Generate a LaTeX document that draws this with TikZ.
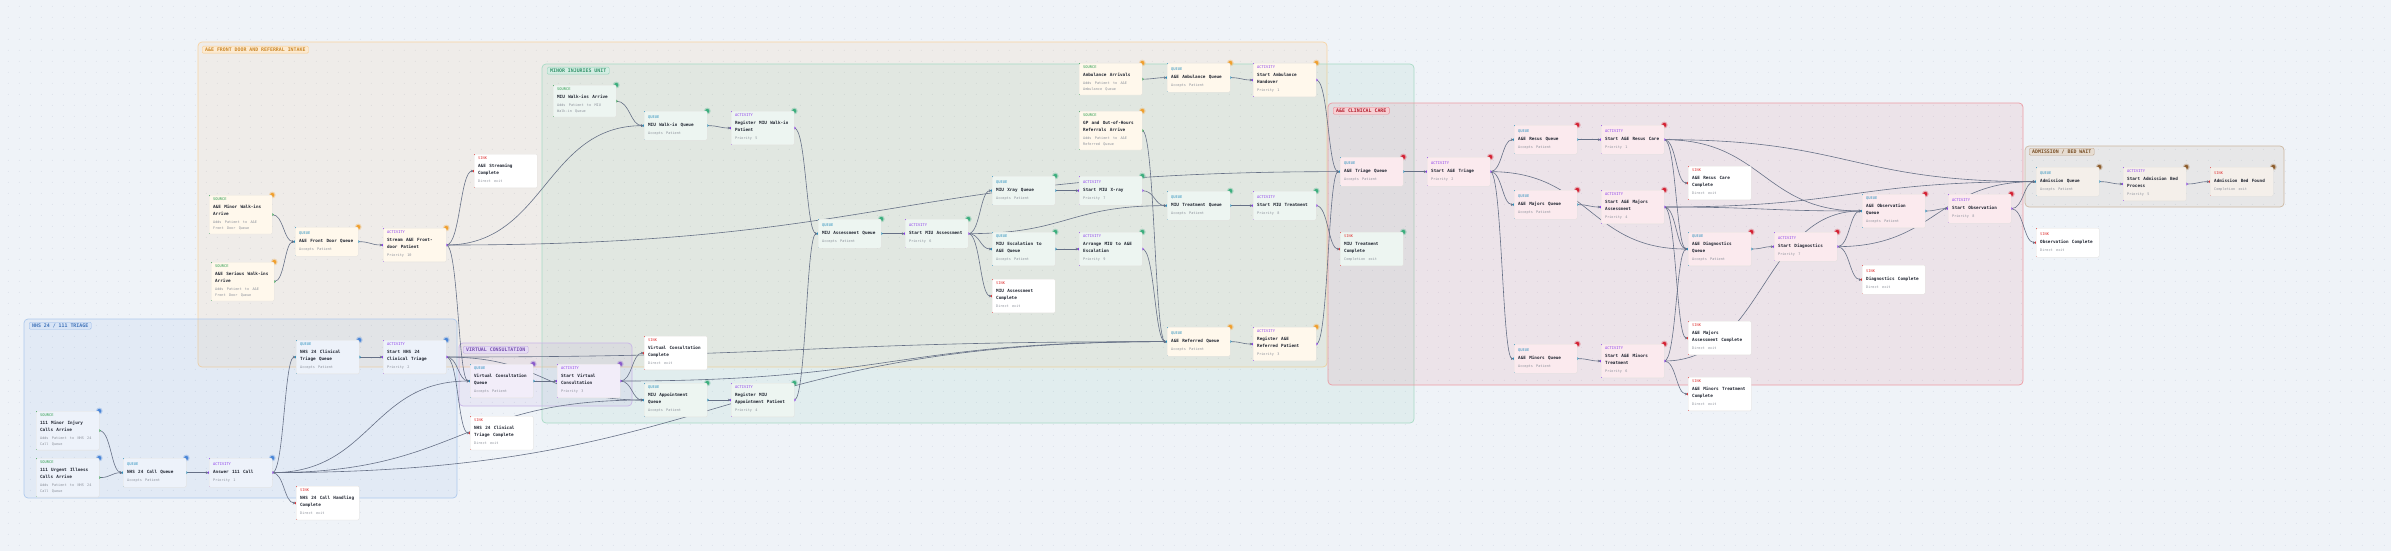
\documentclass[tikz,border=0pt]{standalone}
\usepackage{fontspec}
\setmainfont{DejaVu Sans Mono}
\usepackage{xcolor}
\usepackage{tikz}
\usetikzlibrary{arrows.meta, calc}

\definecolor{bgcol}{HTML}{EFF3F8}
\definecolor{gridcol}{HTML}{D3DAE3}
\definecolor{srccol}{HTML}{2E9E4F}
\definecolor{quecol}{HTML}{2A8FBD}
\definecolor{actcol}{HTML}{8B3DEB}
\definecolor{snkcol}{HTML}{E03A3A}
\definecolor{titlecol}{HTML}{1F2430}
\definecolor{subcol}{HTML}{8C919B}
\definecolor{edgecol}{HTML}{667086}
\definecolor{cardline}{HTML}{E4E2DE}
% group colours
\definecolor{fdcol}{HTML}{F0A030}
\definecolor{miucol}{HTML}{3DAE7E}
\definecolor{nhscol}{HTML}{4A86D8}
\definecolor{vccol}{HTML}{8A5CCB}
\definecolor{cccol}{HTML}{D42335}
\definecolor{admcol}{HTML}{8E5E2E}
% card fills
\definecolor{fdfill}{HTML}{FFF8EC}
\definecolor{miufill}{HTML}{EDF5F1}
\definecolor{nhsfill}{HTML}{EDF2FA}
\definecolor{vcfill}{HTML}{F2EDF9}
\definecolor{ccfill}{HTML}{FBEAEE}
\definecolor{admfill}{HTML}{F4EFEA}

\pgfdeclarelayer{background}
\pgfdeclarelayer{edges}
\pgfsetlayers{background,edges,main}

% type / title / subtitle of one card
\newcommand{\cardtext}[4]{%
  \parindent=0pt\leftskip=1.5pt\hyphenpenalty=10000\lineskiplimit=-20pt\lineskip=0pt
  {\fontsize{3.7pt}{4pt}\selectfont\color{#1}#2\par}%
  \vspace{1pt}%
  {\fontsize{4.3pt}{7pt}\selectfont\bfseries\color{titlecol}#3\par}%
  \vspace{2.8pt}%
  {\fontsize{3.5pt}{5.2pt}\selectfont\color{subcol}#4\rule[-2pt]{0pt}{2pt}\par}}

\begin{document}
\begin{tikzpicture}[x=1pt, y=-1pt,
    card/.style={anchor=north west, rectangle, rounded corners=1.2pt, text width=58pt,
        minimum height=29pt, inner xsep=2.5pt, inner ysep=3pt, align=left,
        draw=cardline, line width=0.3pt},
    source/.style={card, append after command={\pgfextra{
        \fill[srccol] (\tikzlastnode.north west) rectangle ([xshift=1.4pt]\tikzlastnode.south west);
        \fill[srccol] (\tikzlastnode.east) circle (1.5pt);}}},
    queue/.style={card, append after command={\pgfextra{
        \fill[quecol] (\tikzlastnode.north west) rectangle ([xshift=1.4pt]\tikzlastnode.south west);
        \fill[quecol] (\tikzlastnode.west) circle (1.5pt);
        \fill[quecol] (\tikzlastnode.east) circle (1.5pt);}}},
    activity/.style={card, append after command={\pgfextra{
        \fill[actcol] (\tikzlastnode.north west) rectangle ([xshift=1.4pt]\tikzlastnode.south west);
        \fill[actcol] (\tikzlastnode.west) circle (1.5pt);
        \fill[actcol] (\tikzlastnode.east) circle (1.5pt);}}},
    sink/.style={card, append after command={\pgfextra{
        \fill[snkcol] (\tikzlastnode.north west) rectangle ([xshift=1.4pt]\tikzlastnode.south west);
        \fill[snkcol] (\tikzlastnode.west) circle (1.5pt);}}},
    exit/.style={sink, fill=white},
    grpdot/.style={append after command={\pgfextra{
        \fill[#1, opacity=.3] (\tikzlastnode.north east) circle (3.4pt);
        \fill[#1] (\tikzlastnode.north east) circle (2.1pt);}}},
    fdnode/.style={fill=fdfill, grpdot=fdcol},
    miunode/.style={fill=miufill, grpdot=miucol},
    nhsnode/.style={fill=nhsfill, grpdot=nhscol},
    vcnode/.style={fill=vcfill, grpdot=vccol},
    ccnode/.style={fill=ccfill, grpdot=cccol},
    admnode/.style={fill=admfill, grpdot=admcol},
    grpbox/.style={rounded corners=4pt, line width=0.7pt, draw=#1!45, fill=#1, fill opacity=0.075},
    grplabel/.style={anchor=north west, rounded corners=1.2pt, draw=#1!55, fill=#1!22,
        text=#1!85!black, font=\fontsize{4.9pt}{5pt}\selectfont\bfseries,
        inner xsep=3pt, inner ysep=0pt, minimum height=7pt},
    gridrow/.style={draw=gridcol, line width=0.9pt, line cap=round, dash pattern=on 0pt off 11pt},
    flow/.style={draw=edgecol, line width=0.6pt, -{Stealth[length=3.2pt, width=2.6pt]},
        to path={let \p1=(\tikztostart), \p2=(\tikztotarget), \n1={max(0.5*(\x2-\x1),8)} in
            .. controls (\x1+\n1,\y1) and (\x2-\n1,\y2) .. (\tikztotarget)}}
]
\useasboundingbox (0,0) rectangle (2391,551);

% --- canvas and groups ---
\begin{pgfonlayer}{background}
\fill[bgcol] (0,0) rectangle (2391,551);
\foreach \gy in {6.3,17.3,...,551}
    \draw[gridrow] (8.3,\gy) -- (2391,\gy);
\draw[grpbox=fdcol] (198,42) rectangle (1327,367);
\draw[grpbox=miucol] (542,64) rectangle (1414,423);
\draw[grpbox=nhscol] (24,319) rectangle (457,498);
\draw[grpbox=vccol] (459,343) rectangle (632,406);
\draw[grpbox=cccol] (1328,103) rectangle (2023,385);
\draw[grpbox=admcol] (2025,146) rectangle (2284,207);
\node[grplabel=fdcol] (fdlbl) at (202,46) {A\&E FRONT DOOR AND REFERRAL INTAKE};
\node[grplabel=miucol] (miulbl) at (547,67) {MINOR INJURIES UNIT};
\node[grplabel=nhscol] (nhslbl) at (29,322) {NHS 24 / 111 TRIAGE};
\node[grplabel=vccol] (vclbl) at (463,346) {VIRTUAL CONSULTATION};
\node[grplabel=cccol] (cclbl) at (1333,107) {A\&E CLINICAL CARE};
\node[grplabel=admcol] (admlbl) at (2029,148) {ADMISSION / BED WAIT};
\end{pgfonlayer}

% --- A&E front door and referral intake ---
\node[source, fdnode] (mwalk) at (209,195) {\cardtext{srccol}{SOURCE}{A\&E Minor Walk-ins\newline Arrive}{Adds Patient to A\&E\newline Front Door Queue}};
\node[source, fdnode] (swalk) at (211,262) {\cardtext{srccol}{SOURCE}{A\&E Serious Walk-ins\newline Arrive}{Adds Patient to A\&E\newline Front Door Queue}};
\node[queue, fdnode] (fdq) at (295,227) {\cardtext{quecol}{QUEUE}{A\&E Front Door Queue}{Accepts Patient}};
\node[activity, fdnode] (stream) at (383,228) {\cardtext{actcol}{ACTIVITY}{Stream A\&E Front-\newline door Patient}{Priority 10}};
\node[exit] (streamdone) at (474,154) {\cardtext{snkcol}{SINK}{A\&E Streaming\newline Complete}{Direct exit}};
\node[source, fdnode] (ambsrc) at (1079,63) {\cardtext{srccol}{SOURCE}{Ambulance Arrivals}{Adds Patient to A\&E\newline Ambulance Queue}};
\node[queue, fdnode] (ambq) at (1167,63) {\cardtext{quecol}{QUEUE}{A\&E Ambulance Queue}{Accepts Patient}};
\node[activity, fdnode] (ambact) at (1253,63) {\cardtext{actcol}{ACTIVITY}{Start Ambulance\newline Handover}{Priority 1}};
\node[source, fdnode] (gpsrc) at (1079,111) {\cardtext{srccol}{SOURCE}{GP and Out-of-Hours\newline Referrals Arrive}{Adds Patient to A\&E\newline Referred Queue}};
\node[queue, fdnode] (refq) at (1167,327) {\cardtext{quecol}{QUEUE}{A\&E Referred Queue}{Accepts Patient}};
\node[activity, fdnode] (refact) at (1253,327) {\cardtext{actcol}{ACTIVITY}{Register A\&E\newline Referred Patient}{Priority 3}};

% --- NHS 24 / 111 triage ---
\node[source, nhsnode] (mincall) at (36,411) {\cardtext{srccol}{SOURCE}{111 Minor Injury\newline Calls Arrive}{Adds Patient to NHS 24\newline Call Queue}};
\node[source, nhsnode] (urgcall) at (36,458) {\cardtext{srccol}{SOURCE}{111 Urgent Illness\newline Calls Arrive}{Adds Patient to NHS 24\newline Call Queue}};
\node[queue, nhsnode] (callq) at (123,458) {\cardtext{quecol}{QUEUE}{NHS 24 Call Queue}{Accepts Patient}};
\node[activity, nhsnode] (answer) at (209,458) {\cardtext{actcol}{ACTIVITY}{Answer 111 Call}{Priority 1}};
\node[queue, nhsnode] (ctq) at (296,340) {\cardtext{quecol}{QUEUE}{NHS 24 Clinical\newline Triage Queue}{Accepts Patient}};
\node[activity, nhsnode] (ctact) at (383,340) {\cardtext{actcol}{ACTIVITY}{Start NHS 24\newline Clinical Triage}{Priority 2}};
\node[exit] (calldone) at (296,486) {\cardtext{snkcol}{SINK}{NHS 24 Call Handling\newline Complete}{Direct exit}};
\node[exit] (ctdone) at (470,416) {\cardtext{snkcol}{SINK}{NHS 24 Clinical\newline Triage Complete}{Direct exit}};

% --- virtual consultation ---
\node[queue, vcnode] (vcq) at (470,364) {\cardtext{quecol}{QUEUE}{Virtual Consultation\newline Queue}{Accepts Patient}};
\node[activity, vcnode] (vcact) at (557,364) {\cardtext{actcol}{ACTIVITY}{Start Virtual\newline Consultation}{Priority 3}};
\node[exit] (vcdone) at (644,336) {\cardtext{snkcol}{SINK}{Virtual Consultation\newline Complete}{Direct exit}};

% --- minor injuries unit ---
\node[source, miunode] (miusrc) at (553,85) {\cardtext{srccol}{SOURCE}{MIU Walk-ins Arrive}{Adds Patient to MIU\newline Walk-in Queue}};
\node[queue, miunode] (walkq) at (644,111) {\cardtext{quecol}{QUEUE}{MIU Walk-in Queue}{Accepts Patient}};
\node[activity, miunode] (walkact) at (731,111) {\cardtext{actcol}{ACTIVITY}{Register MIU Walk-in\newline Patient}{Priority 5}};
\node[queue, miunode] (apptq) at (644,383) {\cardtext{quecol}{QUEUE}{MIU Appointment\newline Queue}{Accepts Patient}};
\node[activity, miunode] (apptact) at (731,383) {\cardtext{actcol}{ACTIVITY}{Register MIU\newline Appointment Patient}{Priority 4}};
\node[queue, miunode] (assessq) at (818,219) {\cardtext{quecol}{QUEUE}{MIU Assessment Queue}{Accepts Patient}};
\node[activity, miunode] (assessact) at (905,219) {\cardtext{actcol}{ACTIVITY}{Start MIU Assessment}{Priority 6}};
\node[queue, miunode] (xrayq) at (992,176) {\cardtext{quecol}{QUEUE}{MIU Xray Queue}{Accepts Patient}};
\node[activity, miunode] (xrayact) at (1079,176) {\cardtext{actcol}{ACTIVITY}{Start MIU X-ray}{Priority 7}};
\node[queue, miunode] (escq) at (992,232) {\cardtext{quecol}{QUEUE}{MIU Escalation to\newline A\&E Queue}{Accepts Patient}};
\node[activity, miunode] (escact) at (1079,232) {\cardtext{actcol}{ACTIVITY}{Arrange MIU to A\&E\newline Escalation}{Priority 9}};
\node[exit] (assessdone) at (992,279) {\cardtext{snkcol}{SINK}{MIU Assessment\newline Complete}{Direct exit}};
\node[queue, miunode] (treatq) at (1167,191) {\cardtext{quecol}{QUEUE}{MIU Treatment Queue}{Accepts Patient}};
\node[activity, miunode] (treatact) at (1253,191) {\cardtext{actcol}{ACTIVITY}{Start MIU Treatment}{Priority 8}};
\node[sink, miunode] (treatdone) at (1340,232) {\cardtext{snkcol}{SINK}{MIU Treatment\newline Complete}{Completion exit}};

% --- A&E clinical care ---
\node[queue, ccnode] (triageq) at (1340,157) {\cardtext{quecol}{QUEUE}{A\&E Triage Queue}{Accepts Patient}};
\node[activity, ccnode] (triageact) at (1427,157) {\cardtext{actcol}{ACTIVITY}{Start A\&E Triage}{Priority 2}};
\node[queue, ccnode] (resusq) at (1514,125) {\cardtext{quecol}{QUEUE}{A\&E Resus Queue}{Accepts Patient}};
\node[queue, ccnode] (majq) at (1514,190) {\cardtext{quecol}{QUEUE}{A\&E Majors Queue}{Accepts Patient}};
\node[queue, ccnode] (minq) at (1514,344) {\cardtext{quecol}{QUEUE}{A\&E Minors Queue}{Accepts Patient}};
\node[activity, ccnode] (resusact) at (1601,125) {\cardtext{actcol}{ACTIVITY}{Start A\&E Resus Care}{Priority 1}};
\node[activity, ccnode] (majact) at (1601,190) {\cardtext{actcol}{ACTIVITY}{Start A\&E Majors\newline Assessment}{Priority 4}};
\node[activity, ccnode] (minact) at (1601,344) {\cardtext{actcol}{ACTIVITY}{Start A\&E Minors\newline Treatment}{Priority 6}};
\node[exit] (resusdone) at (1688,166) {\cardtext{snkcol}{SINK}{A\&E Resus Care\newline Complete}{Direct exit}};
\node[queue, ccnode] (diagq) at (1688,232) {\cardtext{quecol}{QUEUE}{A\&E Diagnostics\newline Queue}{Accepts Patient}};
\node[activity, ccnode] (diagact) at (1774,232) {\cardtext{actcol}{ACTIVITY}{Start Diagnostics}{Priority 7}};
\node[exit] (majdone) at (1688,321) {\cardtext{snkcol}{SINK}{A\&E Majors\newline Assessment Complete}{Direct exit}};
\node[exit] (mindone) at (1688,377) {\cardtext{snkcol}{SINK}{A\&E Minors Treatment\newline Complete}{Direct exit}};
\node[queue, ccnode] (obsq) at (1862,194) {\cardtext{quecol}{QUEUE}{A\&E Observation\newline Queue}{Accepts Patient}};
\node[activity, ccnode] (obsact) at (1948,194) {\cardtext{actcol}{ACTIVITY}{Start Observation}{Priority 8}};
\node[exit] (diagdone) at (1862,265) {\cardtext{snkcol}{SINK}{Diagnostics Complete}{Direct exit}};

% --- admission / bed wait ---
\node[queue, admnode] (admq) at (2036,167) {\cardtext{quecol}{QUEUE}{Admission Queue}{Accepts Patient}};
\node[activity, admnode] (admact) at (2123,167) {\cardtext{actcol}{ACTIVITY}{Start Admission Bed\newline Process}{Priority 5}};
\node[sink, admnode] (admdone) at (2210,167) {\cardtext{snkcol}{SINK}{Admission Bed Found}{Completion exit}};
\node[exit] (obsdone) at (2036,228) {\cardtext{snkcol}{SINK}{Observation Complete}{Direct exit}};

% --- connectors ---
\begin{pgfonlayer}{edges}
\draw[flow] (mwalk.east) to (fdq.west);
\draw[flow] (swalk.east) to (fdq.west);
\draw[flow] (fdq.east) to (stream.west);
\draw[flow] (stream.east) to (streamdone.west);
\draw[flow] (stream.east) to (walkq.west);
\draw[flow] (stream.east) to (triageq.west);
\draw[flow] (stream.east) to (vcq.west);
\draw[flow] (ambsrc.east) to (ambq.west);
\draw[flow] (ambq.east) to (ambact.west);
\draw[flow] (ambact.east) to (triageq.west);
\draw[flow] (gpsrc.east) to (refq.west);
\draw[flow] (refq.east) to (refact.west);
\draw[flow] (refact.east) to (triageq.west);

\draw[flow] (mincall.east) to (callq.west);
\draw[flow] (urgcall.east) to (callq.west);
\draw[flow] (callq.east) to (answer.west);
\draw[flow] (answer.east) to (ctq.west);
\draw[flow] (answer.east) to (calldone.west);
\draw[flow] (answer.east) to (vcq.west);
\draw[flow] (answer.east) to (apptq.west);
\draw[flow] (answer.east) to (refq.west);
\draw[flow] (ctq.east) to (ctact.west);
\draw[flow] (ctact.east) to (vcq.west);
\draw[flow] (ctact.east) to (ctdone.west);
\draw[flow] (ctact.east) to (refq.west);
\draw[flow] (ctact.east) to (apptq.west);

\draw[flow] (vcq.east) to (vcact.west);
\draw[flow] (vcact.east) to (vcdone.west);
\draw[flow] (vcact.east) to (apptq.west);
\draw[flow] (vcact.east) to (refq.west);

\draw[flow] (miusrc.east) to (walkq.west);
\draw[flow] (walkq.east) to (walkact.west);
\draw[flow] (walkact.east) to (assessq.west);
\draw[flow] (apptq.east) to (apptact.west);
\draw[flow] (apptact.east) to (assessq.west);
\draw[flow] (assessq.east) to (assessact.west);
\draw[flow] (assessact.east) to (xrayq.west);
\draw[flow] (assessact.east) to (escq.west);
\draw[flow] (assessact.east) to (assessdone.west);
\draw[flow] (assessact.east) to (treatq.west);
\draw[flow] (xrayq.east) to (xrayact.west);
\draw[flow] (xrayact.east) to (treatq.west);
\draw[flow] (escq.east) to (escact.west);
\draw[flow] (escact.east) to (refq.west);
\draw[flow] (treatq.east) to (treatact.west);
\draw[flow] (treatact.east) to (treatdone.west);

\draw[flow] (triageq.east) to (triageact.west);
\draw[flow] (triageact.east) to (resusq.west);
\draw[flow] (triageact.east) to (majq.west);
\draw[flow] (triageact.east) to (minq.west);
\draw[flow] (triageact.east) to (diagq.west);
\draw[flow] (resusq.east) to (resusact.west);
\draw[flow] (majq.east) to (majact.west);
\draw[flow] (minq.east) to (minact.west);
\draw[flow] (resusact.east) to (resusdone.west);
\draw[flow] (resusact.east) to (diagq.west);
\draw[flow] (resusact.east) to (obsq.west);
\draw[flow] (resusact.east) to (admq.west);
\draw[flow] (majact.east) to (diagq.west);
\draw[flow] (majact.east) to (obsq.west);
\draw[flow] (majact.east) to (admq.west);
\draw[flow] (majact.east) to (majdone.west);
\draw[flow] (minact.east) to (diagq.west);
\draw[flow] (minact.east) to (obsq.west);
\draw[flow] (minact.east) to (mindone.west);
\draw[flow] (diagq.east) to (diagact.west);
\draw[flow] (diagact.east) to (obsq.west);
\draw[flow] (diagact.east) to (diagdone.west);
\draw[flow] (diagact.east) to (admq.west);
\draw[flow] (obsq.east) to (obsact.west);
\draw[flow] (obsact.east) to (admq.west);
\draw[flow] (obsact.east) to (obsdone.west);
\draw[flow] (admq.east) to (admact.west);
\draw[flow] (admact.east) to (admdone.west);
\end{pgfonlayer}

\end{tikzpicture}
\end{document}
